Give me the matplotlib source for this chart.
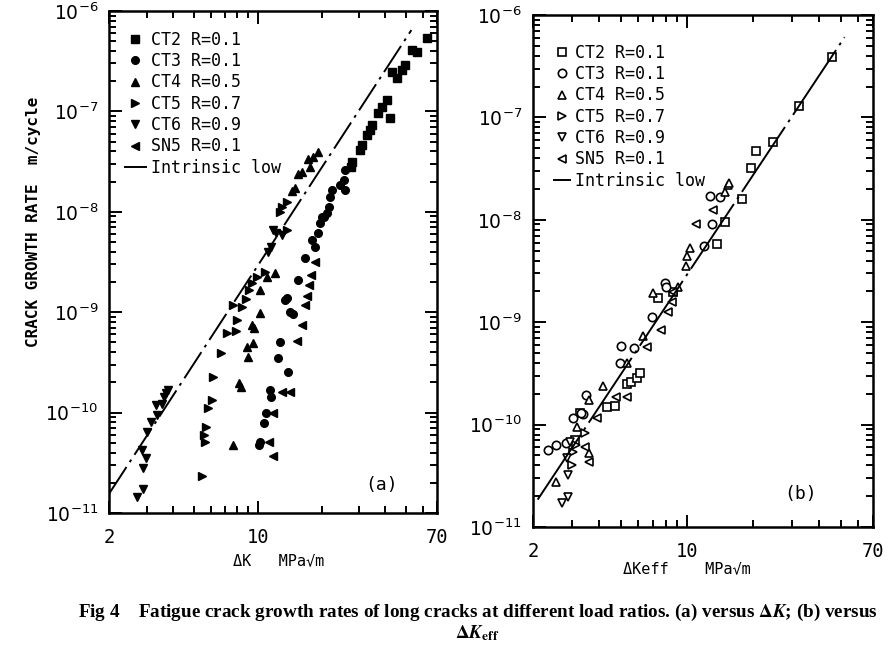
import numpy as np
import matplotlib
matplotlib.use("Agg")
import matplotlib.pyplot as plt
from matplotlib.ticker import LogLocator, NullFormatter, FixedLocator, FixedFormatter

plt.rcParams['font.family'] = ['DejaVu Sans Mono', 'DejaVu Sans']
plt.rcParams['mathtext.fontset'] = 'dejavusans'

# ---------------- data: panel (a), da/dN vs dK ----------------
a_ct2_k = [62.6, 56.2, 53.2, 49.5, 47.7, 45.2, 42.8, 40.6, 38.4, 37.0, 42.0, 34.5, 34.0, 32.6, 30.9, 30.4, 27.7, 27.5]
a_ct2_v = [5.35e-7, 3.94e-7, 4.08e-7, 2.9e-7, 2.58e-7, 2.14e-7, 2.48e-7, 1.3e-7, 1.11e-7, 9.6e-8, 8.5e-8, 7.3e-8, 6.5e-8, 5.8e-8, 4.6e-8, 4.1e-8, 3.15e-8, 2.8e-8]
a_ct3_k = [25.8, 25.4, 25.8, 24.4, 22.3, 22.0, 21.6, 21.1, 20.6, 20.0, 19.7, 19.3, 18.0, 18.7,
           16.7, 15.5, 13.4, 14.6, 12.7, 12.4, 13.9, 11.4, 11.6, 10.9, 10.7, 10.25, 10.1, 13.7, 14.2]
a_ct3_v = [2.6e-8, 2.07e-8, 1.65e-8, 1.85e-8, 1.65e-8, 1.41e-8, 1.12e-8, 9.7e-9, 8.9e-9, 8.9e-9, 7.7e-9, 6.1e-9, 5.2e-9, 4.45e-9,
           3.44e-9, 2.1e-9, 1.32e-9, 9.7e-10, 5.1e-10, 3.5e-10, 2.55e-10, 1.68e-10, 1.44e-10, 9.8e-11, 7.9e-11, 5.1e-11, 4.75e-11, 1.4e-9, 1.0e-9]
a_ct4_k = [7.62, 8.18, 8.3, 9.03, 8.87, 9.47, 9.37, 9.6, 10.3, 10.25, 11.0, 12.06,
           19.3, 18.3, 17.3, 17.6, 16.1, 15.5, 15.0, 14.5]
a_ct4_v = [4.75e-11, 1.96e-10, 1.8e-10, 3.6e-10, 4.5e-10, 4.9e-10, 7.4e-10, 7.0e-10, 9.75e-10, 1.66e-9, 2.26e-9, 2.47e-9,
           3.97e-8, 3.54e-8, 3.33e-8, 2.8e-8, 2.5e-8, 2.4e-8, 1.71e-8, 1.62e-8]
a_ct5_k = [5.44, 5.64, 5.6, 5.70, 5.85, 6.07, 6.13, 6.69, 7.14, 7.90, 8.01, 8.80, 8.40, 7.67, 9.12, 9.37, 9.9, 10.8,
           13.7, 13.0, 12.8, 13.7]
a_ct5_v = [2.34e-11, 5.13e-11, 6.0e-11, 7.2e-11, 1.11e-10, 1.33e-10, 2.28e-10, 3.95e-10, 6.2e-10, 6.5e-10, 8.4e-10, 1.35e-9, 1.12e-9, 1.18e-9, 1.66e-9, 1.95e-9, 2.26e-9, 2.53e-9,
           1.26e-8, 1.11e-8, 9.9e-9, 6.6e-9]
a_ct6_k = [2.69, 2.87, 2.87, 2.97, 2.84, 3.0, 3.13, 3.34, 3.32, 3.52, 3.61, 3.79, 3.7,
           11.8, 12.2, 13.0, 11.6, 11.2]
a_ct6_v = [1.45e-11, 1.72e-11, 2.78e-11, 3.5e-11, 4.26e-11, 6.45e-11, 8.1e-11, 9.5e-11, 1.19e-10, 1.22e-10, 1.44e-10, 1.68e-10, 1.55e-10,
           6.6e-9, 6.1e-9, 5.9e-9, 4.5e-9, 4.0e-9]
a_sn5_k = [18.6, 17.8, 17.5, 17.0, 16.7, 16.1, 15.3, 14.2, 13.0, 11.8, 11.3, 11.8]
a_sn5_v = [3.18e-9, 2.34e-9, 1.87e-9, 1.45e-9, 1.18e-9, 7.4e-10, 5.2e-10, 1.61e-10, 1.61e-10, 9.8e-11, 5.1e-11, 3.7e-11]

# ---------------- data: panel (b), da/dN vs dKeff ----------------
b_ct2_k = [45.4, 32.4, 24.5, 20.7, 19.5, 17.7, 14.9, 13.7, 7.41, 8.67, 5.36, 5.6, 5.92, 6.1, 4.32, 4.72, 3.27, 3.10]
b_ct2_v = [3.92e-7, 1.29e-7, 5.8e-8, 4.73e-8, 3.23e-8, 1.58e-8, 9.6e-9, 5.8e-9, 1.71e-9, 1.99e-9, 2.5e-10, 2.62e-10, 2.83e-10, 3.17e-10, 1.5e-10, 1.52e-10, 1.3e-10, 7.1e-11]
b_ct3_k = [12.7, 14.2, 12.96, 11.9, 7.95, 8.0, 6.92, 5.75, 5.0, 4.98, 3.48, 3.05, 2.82, 2.54, 2.35, 3.38, 3.3]
b_ct3_v = [1.71e-8, 1.66e-8, 9.1e-9, 5.5e-9, 2.4e-9, 2.19e-9, 1.13e-9, 5.6e-10, 5.9e-10, 3.97e-10, 1.95e-10, 1.15e-10, 6.65e-11, 6.3e-11, 5.65e-11, 1.27e-10, 1.3e-10]
b_ct4_k = [14.9, 15.3, 15.6, 10.3, 9.98, 9.9, 7.04, 9.14, 6.30, 5.33, 4.14, 3.60, 3.59, 2.54, 3.18]
b_ct4_v = [1.88e-8, 2.19e-8, 2.3e-8, 5.3e-9, 4.4e-9, 3.5e-9, 1.91e-9, 2.22e-9, 7.3e-10, 3.97e-10, 2.38e-10, 1.74e-10, 5.3e-11, 2.77e-11, 9.55e-11]
b_ct5_k = [3.44, 3.05, 3.0, 3.15]
b_ct5_v = [8.2e-11, 5.4e-11, 4.0e-11, 6.3e-11]
b_ct6_k = [2.70, 2.89, 2.89, 2.86, 2.94]
b_ct6_v = [1.7e-11, 1.98e-11, 3.2e-11, 4.7e-11, 6.8e-11]
b_sn5_k = [13.1, 11.0, 8.62, 8.55, 8.23, 7.60, 6.57, 5.33, 4.76, 3.89, 3.6, 3.44]
b_sn5_v = [1.25e-8, 9.2e-9, 1.99e-9, 1.58e-9, 1.27e-9, 8.4e-10, 5.7e-10, 1.87e-10, 1.87e-10, 1.15e-10, 4.35e-11, 6.1e-11]

# intrinsic law  da/dN = C * (dK / 2)^m
law_c = 1.58e-11
law_m = 3.24
law_a_range = [2.0, 53.0]
law_b_range = [2.1, 52.0]

series_labels = ["CT2 R=0.1", "CT3 R=0.1", "CT4 R=0.5", "CT5 R=0.7", "CT6 R=0.9", "SN5 R=0.1"]
markers = ["s", "o", "^", ">", "v", "<"]
x_ticks = [2, 10, 70]
x_tick_labels = ["2", "10", "70"]
y_ticks = [1e-11, 1e-10, 1e-9, 1e-8, 1e-7, 1e-6]
y_tick_labels = [r"$10^{-11}$", r"$10^{-10}$", r"$10^{-9}$",
                 r"$10^{-8}$", r"$10^{-7}$", r"$10^{-6}$"]

W, H = 895, 645
fig = plt.figure(figsize=(W / 100, H / 100), dpi=100)


def px_axes(l, r, t, b):
    return fig.add_axes([l / W, 1 - b / H, (r - l) / W, (b - t) / H])


AX_A = (109.5, 437, 11, 513)
AX_B = (533, 873, 15, 527)
ax_a = px_axes(*AX_A)
ax_b = px_axes(*AX_B)


def style(ax):
    ax.set_xscale("log")
    ax.set_yscale("log")
    ax.set_xlim(2, 70)
    ax.set_ylim(1e-11, 1e-6)
    ax.xaxis.set_major_locator(FixedLocator(x_ticks))
    ax.xaxis.set_major_formatter(FixedFormatter(x_tick_labels))
    ax.xaxis.set_minor_locator(LogLocator(base=10, subs=np.arange(2, 10)))
    ax.xaxis.set_minor_formatter(NullFormatter())
    ax.yaxis.set_major_locator(FixedLocator(y_ticks))
    ax.yaxis.set_major_formatter(FixedFormatter(y_tick_labels))
    ax.yaxis.set_minor_locator(LogLocator(base=10, subs=np.arange(2, 10)))
    ax.yaxis.set_minor_formatter(NullFormatter())
    ax.tick_params(which="both", direction="in", top=True, right=True, colors="black", width=1.4)
    ax.tick_params(which="major", length=9, labelsize=13.5)
    ax.tick_params(axis="x", which="major", pad=11)
    ax.tick_params(axis="y", which="major", pad=8)
    ax.tick_params(which="minor", length=5)
    for s in ax.spines.values():
        s.set_linewidth(1.8)


style(ax_a)
style(ax_b)

a_data = [(a_ct2_k, a_ct2_v), (a_ct3_k, a_ct3_v), (a_ct4_k, a_ct4_v),
          (a_ct5_k, a_ct5_v), (a_ct6_k, a_ct6_v), (a_sn5_k, a_sn5_v)]
b_data = [(b_ct2_k, b_ct2_v), (b_ct3_k, b_ct3_v), (b_ct4_k, b_ct4_v),
          (b_ct5_k, b_ct5_v), (b_ct6_k, b_ct6_v), (b_sn5_k, b_sn5_v)]

for (k, v), m, lab in zip(a_data, markers, series_labels):
    ax_a.plot(k, v, linestyle="none", marker=m, markersize=5.5, color="black", label=lab)
for (k, v), m, lab in zip(b_data, markers, series_labels):
    ax_b.plot(k, v, linestyle="none", marker=m, markersize=6, markerfacecolor="white",
              markeredgecolor="black", markeredgewidth=1.2, label=lab)

ka = np.geomspace(law_a_range[0], law_a_range[1], 50)
ax_a.plot(ka, law_c * (ka / 2.0) ** law_m, color="black", lw=1.4,
          linestyle=(0, (16, 3, 1.5, 3)), label="Intrinsic low")
kb = np.geomspace(law_b_range[0], law_b_range[1], 50)
ax_b.plot(kb, law_c * (kb / 2.0) ** law_m, color="black", lw=1.4,
          linestyle=(0, (40, 3, 1.5, 3)), label="Intrinsic low")

FS_LEG = 12
emp = FS_LEG * 100 / 72.0
# legend box corners (pixel) converted to axes fractions
ax_a.legend(loc="upper left",
            bbox_to_anchor=((117 - AX_A[0]) / (AX_A[1] - AX_A[0]), 1 - (24 - AX_A[2]) / (AX_A[3] - AX_A[2])),
            frameon=False, fontsize=FS_LEG, handlelength=1.4, handletextpad=0.25,
            labelspacing=0.2, borderaxespad=0.0)
ax_b.legend(loc="upper left",
            bbox_to_anchor=((546 - AX_B[0]) / (AX_B[1] - AX_B[0]), 1 - (37 - AX_B[2]) / (AX_B[3] - AX_B[2])),
            frameon=False, fontsize=FS_LEG, handlelength=1.1, handletextpad=0.25,
            labelspacing=0.2, borderaxespad=0.0)

ax_a.text(0.78, 0.045, "(a)", transform=ax_a.transAxes, fontsize=13)
ax_b.text(0.74, 0.055, "(b)", transform=ax_b.transAxes, fontsize=13)

fig.text(34 / W, 1 - 222 / H, "CRACK GROWTH RATE  m/cycle", rotation=90,
         ha="center", va="center", fontsize=11.5, fontweight="bold")
fig.text(279 / W, 1 - 561 / H, "ΔK   MPa√m", ha="center", va="center", fontsize=11)
fig.text(687 / W, 1 - 569 / H, "ΔKeff    MPa√m", ha="center", va="center", fontsize=11)

fig.text(478 / W, 1 - 612 / H,
         "Fig 4    Fatigue crack growth rates of long cracks at different load ratios. (a) versus $\\mathbf{\\Delta}\\boldsymbol{K}$; (b) versus",
         ha="center", va="center", fontsize=13.8, fontweight="bold", family="Liberation Serif",
         math_fontfamily="stix")
fig.text(477 / W, 1 - 633 / H, "$\\mathbf{\\Delta}\\boldsymbol{K}_{\\mathbf{eff}}$",
         ha="center", va="center", fontsize=13.8, fontweight="bold", family="Liberation Serif",
         math_fontfamily="stix")

fig.savefig("out.png", dpi=100)
